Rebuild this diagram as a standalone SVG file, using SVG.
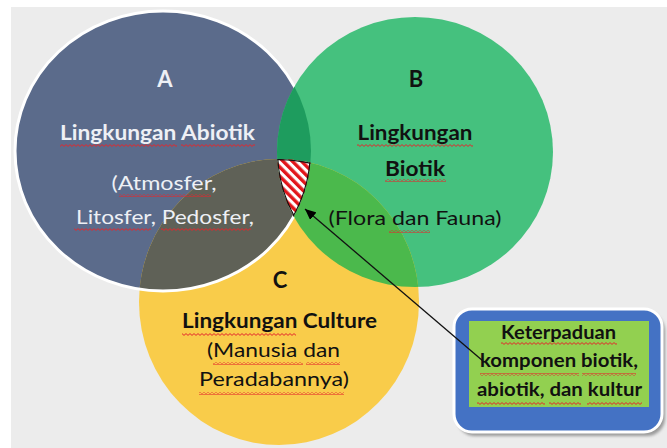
<svg xmlns="http://www.w3.org/2000/svg" width="667" height="448" viewBox="0 0 667 448">
<style>
.t{font-family:Lato,"Open Sans","Liberation Sans",sans-serif;text-anchor:middle}
.b{font-weight:bold}
.lt{fill:#eef0f5}
.dk{fill:#111}
.sq{fill:url(#squig)}
</style>
<defs>
<pattern id="squig" width="4" height="3" patternUnits="userSpaceOnUse"><path d="M0 2.4 L2 0.6 L4 2.4" fill="none" stroke="#e3262b" stroke-width="1"/></pattern>
<pattern id="hatch" width="6.5" height="6.5" patternUnits="userSpaceOnUse" patternTransform="rotate(-45)"><rect width="6.5" height="6.5" fill="#fff"/><rect width="3.4" height="6.5" fill="#e2161b"/></pattern>
<clipPath id="clipA"><ellipse cx="163" cy="151" rx="148" ry="140"/></clipPath>
<clipPath id="clipB"><ellipse cx="415" cy="152" rx="138" ry="135"/></clipPath>
<clipPath id="clipC"><ellipse cx="279" cy="302" rx="140" ry="143"/></clipPath>
<mask id="notB" maskUnits="userSpaceOnUse" x="0" y="0" width="667" height="448"><rect width="667" height="448" fill="#fff"/><ellipse cx="415" cy="152" rx="138" ry="135" fill="#000"/></mask>
<marker id="arr" markerWidth="12" markerHeight="10" refX="11" refY="5" orient="auto" markerUnits="userSpaceOnUse"><path d="M0 0 L11 5 L0 10 Z" fill="#000"/></marker>
<filter id="shadow" x="-10%" y="-10%" width="130%" height="130%"><feGaussianBlur stdDeviation="1.5"/></filter>
</defs>
<rect width="667" height="448" fill="#fff"/>
<rect x="11" y="7" width="656" height="441" fill="#ececec"/>

<g id="circle-a"><ellipse cx="163" cy="151" rx="148" ry="140" fill="#5b6b8b"/></g>
<g id="circle-b"><ellipse cx="415" cy="152" rx="138" ry="135" fill="#45c17e"/></g>
<g id="overlap-ab" clip-path="url(#clipA)"><ellipse cx="415" cy="152" rx="138" ry="135" fill="#1e9c5e"/></g>
<g id="circle-c"><ellipse cx="279" cy="302" rx="140" ry="143" fill="#f9cc4a"/></g>
<g id="overlap-ac" clip-path="url(#clipA)"><ellipse cx="279" cy="302" rx="140" ry="143" fill="#5f6157"/></g>
<g id="overlap-bc" clip-path="url(#clipB)"><ellipse cx="279" cy="302" rx="140" ry="143" fill="#4bb94c"/></g>
<g id="outline-a" mask="url(#notB)"><ellipse cx="163" cy="151" rx="148" ry="140" fill="none" stroke="#fff" stroke-width="3"/></g>
<g id="intersection" clip-path="url(#clipA)"><g clip-path="url(#clipB)"><g clip-path="url(#clipC)">
<rect x="260" y="150" width="70" height="80" fill="url(#hatch)"/>
<ellipse cx="163" cy="151" rx="148" ry="140" fill="none" stroke="#111" stroke-width="2.4"/>
<ellipse cx="415" cy="152" rx="138" ry="135" fill="none" stroke="#111" stroke-width="2.4"/>
<ellipse cx="279" cy="302" rx="140" ry="143" fill="none" stroke="#111" stroke-width="2.4"/>
</g></g></g>

<g id="label-a">
<text class="t b lt" x="165" y="87" font-size="22">A</text>
<text class="t b lt" x="157.5" y="140" font-size="20" textLength="195" lengthAdjust="spacingAndGlyphs">Lingkungan Abiotik</text>
<rect class="sq" x="60" y="144" width="117" height="3"/><rect class="sq" x="181" y="144" width="74" height="3"/>
<text class="t lt" x="164" y="190" font-size="20" textLength="105" lengthAdjust="spacingAndGlyphs">(Atmosfer,</text>
<rect class="sq" x="119" y="194" width="92" height="3"/>
<text class="t lt" x="165" y="224" font-size="20" textLength="178" lengthAdjust="spacingAndGlyphs">Litosfer, Pedosfer,</text>
<rect class="sq" x="74" y="228" width="77" height="3"/><rect class="sq" x="161" y="228" width="90" height="3"/>
</g>
<g id="label-b">
<text class="t b dk" x="416" y="87" font-size="22">B</text>
<text class="t b dk" x="415" y="140" font-size="20" textLength="115" lengthAdjust="spacingAndGlyphs">Lingkungan</text>
<rect class="sq" x="357" y="144" width="116" height="3"/>
<text class="t b dk" x="415" y="176" font-size="20" textLength="60" lengthAdjust="spacingAndGlyphs">Biotik</text>
<rect class="sq" x="385" y="179" width="61" height="3"/>
<text class="t dk" x="415" y="225" font-size="20" textLength="173" lengthAdjust="spacingAndGlyphs">(Flora dan Fauna)</text>
<rect class="sq" x="389" y="230" width="41" height="3"/>
</g>
<g id="label-c">
<text class="t b dk" x="280" y="288" font-size="22">C</text>
<text class="t b dk" x="279.5" y="328" font-size="20" textLength="195" lengthAdjust="spacingAndGlyphs">Lingkungan Culture</text>
<rect class="sq" x="182" y="333" width="114" height="3"/>
<text class="t dk" x="273.5" y="357" font-size="20" textLength="133" lengthAdjust="spacingAndGlyphs">(Manusia dan</text>
<rect class="sq" x="213" y="362" width="90" height="3"/><rect class="sq" x="306" y="362" width="34" height="3"/>
<text class="t dk" x="274" y="386" font-size="20" textLength="150" lengthAdjust="spacingAndGlyphs">Peradabannya)</text>
<rect class="sq" x="199" y="392" width="145" height="3"/>
</g>

<g id="box">
<rect x="457" y="313" width="208" height="123" rx="18" fill="#9a9a9a" filter="url(#shadow)"/>
<rect x="454" y="309" width="208" height="123" rx="18" fill="#4472c4" stroke="#fff" stroke-width="3"/>
<rect x="469" y="321" width="180" height="86" fill="#92d050"/>
<text class="t b dk" x="558.5" y="339" font-size="18" textLength="115" lengthAdjust="spacingAndGlyphs">Keterpaduan</text>
<rect class="sq" x="501" y="342" width="116" height="3"/>
<text class="t b dk" x="559" y="367" font-size="18" textLength="158" lengthAdjust="spacingAndGlyphs">komponen biotik,</text>
<rect class="sq" x="480" y="373" width="99" height="3"/><rect class="sq" x="582" y="373" width="54" height="3"/>
<text class="t b dk" x="559.5" y="396" font-size="18" textLength="165" lengthAdjust="spacingAndGlyphs">abiotik, dan kultur</text>
<rect class="sq" x="477" y="402" width="68" height="3"/><rect class="sq" x="549" y="402" width="32" height="3"/><rect class="sq" x="587" y="402" width="55" height="3"/>
</g>

<g id="connectors">
<line x1="483" y1="361" x2="305" y2="209" stroke="#111" stroke-width="1.3" marker-end="url(#arr)"/>
</g>
</svg>
